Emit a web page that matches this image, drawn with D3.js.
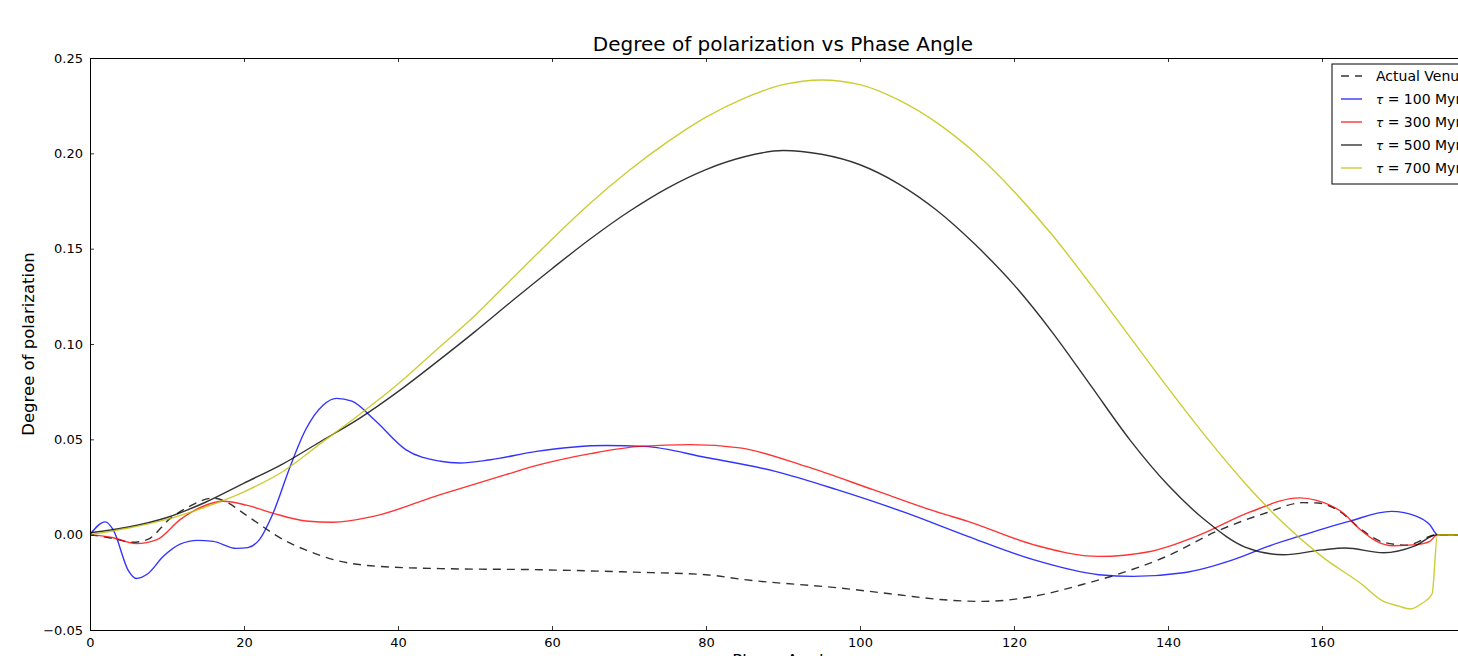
<!DOCTYPE html>
<html>
<head>
<meta charset="utf-8">
<script src="https://cdn.jsdelivr.net/npm/d3@7"></script>
<style>
  html, body { margin: 0; padding: 0; background: #fff; overflow: hidden; }
  svg { display: block; font-family: "DejaVu Sans", sans-serif; }
</style>
</head>
<body>
<script>
const w = 1458;
const h = 656;
const margin = { top: 58, left: 90 };
const plotW = 1386;
const plotH = 572;

// Actual Venus (dashed)
const venusX = [0, 3, 5.5, 7.5, 10.4, 13, 16, 18, 20, 22, 24, 26, 28, 32, 37, 45.5, 58.4, 70, 80, 85, 97.4, 105, 110.4, 116, 122.5, 129, 133.3, 139.8, 146.3, 152.8, 157.5, 159.5, 162.3, 165, 168, 171, 175, 180];
const venusY = [0, -0.002, -0.004, -0.0025, 0.0084, 0.015, 0.0192, 0.0165, 0.011, 0.0055, 0.0, -0.0045, -0.008, -0.0135, -0.0165, -0.0178, -0.0184, -0.0196, -0.021, -0.0236, -0.028, -0.0315, -0.034, -0.035, -0.0324, -0.026, -0.021, -0.0114, 0.0017, 0.0115, 0.0168, 0.0166, 0.0122, 0.003, -0.004, -0.0055, 0, 0];

// tau = 100 Myr
const tau100X = [0, 2, 3, 5, 6, 7.5, 9.5, 11.7, 14, 16, 19, 20.5, 22, 23.8, 26, 28, 30.3, 32, 34, 37, 41, 45.5, 48, 52, 58, 67, 72, 80, 89, 97, 106, 114, 122.5, 131, 135.5, 142, 148.5, 153, 157, 163.5, 169, 172.3, 174, 175, 180];
const tau100Y = [0, 0.0067, 0.0026, -0.019, -0.023, -0.0205, -0.0115, -0.005, -0.003, -0.0035, -0.0072, -0.0068, -0.0026, 0.0115, 0.0358, 0.055, 0.068, 0.0715, 0.07, 0.06, 0.0446, 0.0385, 0.0376, 0.0393, 0.0437, 0.0468, 0.0463, 0.0405, 0.0332, 0.0236, 0.0114, -0.0009, -0.0131, -0.021, -0.0219, -0.02, -0.0131, -0.0061, -0.0009, 0.007, 0.0122, 0.0096, 0.0052, 0, 0];

// tau = 300 Myr
const tau300X = [0, 3, 6, 8.7, 11.7, 14.7, 17.3, 20.3, 23.8, 28, 31.6, 36.8, 45.5, 54, 58.4, 65, 71.4, 78, 84.4, 93, 101.7, 110.4, 114, 122.5, 131, 137.7, 144.2, 150.6, 157.1, 159.3, 162.7, 165, 167.1, 169.2, 172.3, 174, 175, 180];
const tau300Y = [0, -0.0016, -0.0047, -0.0026, 0.0079, 0.0149, 0.0175, 0.0155, 0.0112, 0.0072, 0.0065, 0.0096, 0.021, 0.0315, 0.0367, 0.0425, 0.0463, 0.0472, 0.0455, 0.0358, 0.0236, 0.0114, 0.007, -0.0052, -0.0114, -0.0088, 0, 0.0118, 0.0193, 0.018, 0.0115, 0.0026, -0.0035, -0.0058, -0.0052, -0.0035, 0, 0];

// tau = 500 Myr
const tau500X = [0, 5, 10, 15, 20, 25, 30, 35, 40, 45, 50, 55, 60, 65, 70, 75, 80, 85, 90, 95, 100, 105, 110, 115, 120, 125, 130, 135, 140, 145, 150, 155, 160, 163, 168, 172, 175, 180];
const tau500Y = [0.001, 0.004, 0.009, 0.017, 0.027, 0.037, 0.049, 0.061, 0.075, 0.0905, 0.1065, 0.1232, 0.1395, 0.1552, 0.1695, 0.1818, 0.1915, 0.1982, 0.2015, 0.1995, 0.194, 0.184, 0.17, 0.152, 0.131, 0.106, 0.078, 0.05, 0.026, 0.007, -0.0065, -0.0105, -0.008, -0.007, -0.0095, -0.006, 0, 0];

// tau = 700 Myr
const tau700X = [0, 5, 10, 15, 20, 25, 30, 35, 40, 45, 50, 55, 60, 65, 70, 75, 80, 85, 90, 95, 100, 105, 110, 115, 120, 125, 130, 135, 140, 145, 150, 155, 160, 165, 168, 170, 171.4, 173, 174.3, 175, 180];
const tau700Y = [0, 0.0035, 0.008, 0.0145, 0.0225, 0.033, 0.048, 0.063, 0.079, 0.097, 0.115, 0.135, 0.155, 0.174, 0.191, 0.206, 0.219, 0.229, 0.236, 0.2385, 0.236, 0.228, 0.216, 0.2, 0.18, 0.157, 0.131, 0.104, 0.077, 0.051, 0.027, 0.006, -0.0115, -0.0255, -0.035, -0.0375, -0.039, -0.036, -0.031, 0, 0];

const xTicks = [0, 20, 40, 60, 80, 100, 120, 140, 160];
const yTicks = [-0.05, 0, 0.05, 0.1, 0.15, 0.2, 0.25];

const series = [
  { name: "Actual Venus", tau: null, x: venusX, y: venusY, color: "#000", dash: "8,6" },
  { name: " = 100 Myr", tau: "τ", x: tau100X, y: tau100Y, color: "#0000ff", dash: null },
  { name: " = 300 Myr", tau: "τ", x: tau300X, y: tau300Y, color: "#ff0000", dash: null },
  { name: " = 500 Myr", tau: "τ", x: tau500X, y: tau500Y, color: "#000000", dash: null },
  { name: " = 700 Myr", tau: "τ", x: tau700X, y: tau700Y, color: "#bfbf00", dash: null }
];

const xScale = d3.scaleLinear().domain([0, 180]).range([margin.left, margin.left + plotW]);
const yScale = d3.scaleLinear().domain([-0.05, 0.25]).range([margin.top + plotH, margin.top]);

const svg = d3.select("body").append("svg").attr("width", w).attr("height", h);

svg.append("defs").append("clipPath").attr("id", "plot-clip")
  .append("rect")
  .attr("x", margin.left).attr("y", margin.top)
  .attr("width", plotW).attr("height", plotH);

// Lines
const line = d3.line()
  .x((d) => xScale(d[0]))
  .y((d) => yScale(d[1]))
  .curve(d3.curveMonotoneX);

const lines = svg.append("g").attr("clip-path", "url(#plot-clip)");
series.forEach((s) => {
  const pts = s.x.map((v, i) => [v, s.y[i]]);
  lines.append("path")
    .datum(pts)
    .attr("d", line)
    .attr("fill", "none")
    .attr("stroke", s.color)
    .attr("stroke-opacity", 0.8)
    .attr("stroke-width", 1.4)
    .attr("stroke-dasharray", s.dash);
});

// Axes (ticks inward, on all sides)
const tickSize = 4;
const xAxisBottom = svg.append("g").attr("transform", `translate(0, ${margin.top + plotH})`)
  .call(d3.axisBottom(xScale).tickValues(xTicks).tickSizeInner(-tickSize).tickSizeOuter(0).tickPadding(8).tickFormat(d3.format("d")));
const xAxisTop = svg.append("g").attr("transform", `translate(0, ${margin.top})`)
  .call(d3.axisTop(xScale).tickValues(xTicks).tickSizeInner(-tickSize).tickSizeOuter(0).tickFormat(""));
const yAxisLeft = svg.append("g").attr("transform", `translate(${margin.left}, 0)`)
  .call(d3.axisLeft(yScale).tickValues(yTicks).tickSizeInner(-tickSize).tickSizeOuter(0).tickPadding(7)
    .tickFormat((d) => d3.format(".2f")(d).replace("-", "\u2212")));

[xAxisBottom, xAxisTop, yAxisLeft].forEach((g) => {
  g.select(".domain").attr("stroke", "#000").attr("stroke-width", 1);
  g.selectAll(".tick line").attr("stroke", "#000").attr("stroke-width", 0.8);
  g.selectAll(".tick text").attr("fill", "#000").style("font-size", "13px").style("font-family", "DejaVu Sans");
});
xAxisBottom.selectAll(".tick text").attr("dy", "0.71em");

// Titles
svg.append("text")
  .attr("x", margin.left + plotW / 2)
  .attr("y", 51)
  .attr("text-anchor", "middle")
  .style("font-size", "20px")
  .text("Degree of polarization vs Phase Angle");

svg.append("text")
  .attr("x", margin.left + plotW / 2)
  .attr("y", 666)
  .attr("text-anchor", "middle")
  .style("font-size", "16.5px")
  .text("Phase Angle");

svg.append("text")
  .attr("transform", "rotate(-90)")
  .attr("x", -(margin.top + plotH / 2))
  .attr("y", 34)
  .attr("text-anchor", "middle")
  .style("font-size", "16.5px")
  .text("Degree of polarization");

// Legend
const legend = svg.append("g").attr("transform", "translate(1332, 64)");
legend.append("rect")
  .attr("x", 0).attr("y", 0)
  .attr("width", 140).attr("height", 120)
  .attr("fill", "#fff")
  .attr("stroke", "#000")
  .attr("stroke-width", 1);

series.forEach((s, i) => {
  const yy = 12 + i * 23;
  legend.append("line")
    .attr("x1", 9).attr("x2", 30)
    .attr("y1", yy).attr("y2", yy)
    .attr("stroke", s.color)
    .attr("stroke-opacity", 0.8)
    .attr("stroke-width", 1.4)
    .attr("stroke-dasharray", s.dash);
  const t = legend.append("text")
    .attr("x", 44)
    .attr("y", yy + 5)
    .style("font-size", "14px");
  if (s.tau) {
    t.append("tspan").style("font-style", "italic").style("font-size", "12px").text(s.tau);
  }
  t.append("tspan").text(s.name);
});
</script>
</body>
</html>
